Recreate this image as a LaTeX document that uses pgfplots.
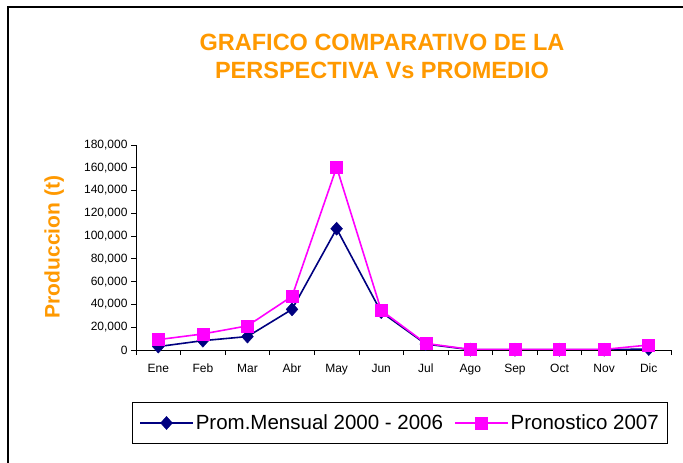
\documentclass[border=0pt]{standalone}
\usepackage{fontspec}
\setmainfont{Liberation Sans}
\usepackage{pgfplots}
\pgfplotsset{compat=1.18}
\definecolor{navyc}{HTML}{000080}
\definecolor{magc}{HTML}{FF00FF}
\definecolor{orngc}{HTML}{FF9900}
\begin{document}
\begin{tikzpicture}
\useasboundingbox (0bp,0bp) rectangle (683bp,463bp);
\fill[white] (0bp,0bp) rectangle (683bp,463bp);
\draw[black, line width=1.2bp] (8bp,-5bp) -- (8bp,456bp) -- (690bp,456bp);
\node[font=\fontsize{23.5bp}{28bp}\selectfont\bfseries, text=orngc, align=center] at (382bp,407bp) {GRAFICO COMPARATIVO DE LA\\PERSPECTIVA Vs PROMEDIO};
\begin{axis}[
  at={(136bp,113bp)}, anchor=south west,
  scale only axis, width=535bp, height=205bp,
  xmin=-0.5, xmax=11.5, ymin=0, ymax=180000,
  axis lines*=left, axis line style={-, black, line width=0.8bp},
  xtick={0,...,11},
  xticklabels={Ene,Feb,Mar,Abr,May,Jun,Jul,Ago,Sep,Oct,Nov,Dic},
  major x tick style={draw=none},
  minor xtick={-0.5,0.5,...,11.5},
  minor tick length=5bp, major tick length=5bp,
  tick align=outside,
  tick style={black, line width=0.8bp},
  ytick={0,20000,...,180000},
  scaled y ticks=false,
  yticklabel style={/pgf/number format/.cd, fixed, 1000 sep={,}, assume math mode=true},
  ticklabel style={font=\fontsize{12bp}{14bp}\selectfont},
  xticklabel style={yshift=-5bp, text height=9bp, text depth=3bp},
  ylabel={Produccion (t)},
  ylabel style={at={(axis description cs:-0.153,0.502)}, anchor=center, rotate=0,
    font=\fontsize{21bp}{25bp}\selectfont\bfseries, text=orngc},
  legend columns=2,
  legend style={at={(axis description cs:0.4935,-0.356)}, anchor=center,
    draw=black, line width=0.8bp, font=\fontsize{20.5bp}{24bp}\selectfont,
    inner xsep=7bp, inner ysep=10bp,
    /tikz/every even column/.append style={column sep=9bp}},
  legend image code/.code={\draw[mark repeat=2,mark phase=2,#1] plot coordinates {(7bp,0bp) (33.5bp,0bp) (60bp,0bp)};},
]
\addplot[navyc, line width=1.6bp, mark=diamond*, mark size=6.5bp, mark options={fill=navyc, line width=0.5bp, xscale=1.2}]
  coordinates {(0,3000) (1,8200) (2,11800) (3,35700) (4,106500) (5,33300) (6,5200) (7,300) (8,200) (9,200) (10,200) (11,900)};
\addlegendentry{Prom.Mensual 2000 - 2006}
\addplot[magc, line width=1.6bp, mark=square*, mark size=6bp, mark options={fill=magc, line width=0.5bp}]
  coordinates {(0,9100) (1,14100) (2,21200) (3,47100) (4,160500) (5,34800) (6,5800) (7,500) (8,500) (9,500) (10,500) (11,4400)};
\addlegendentry{Pronostico 2007}
\end{axis}
\end{tikzpicture}
\end{document}
